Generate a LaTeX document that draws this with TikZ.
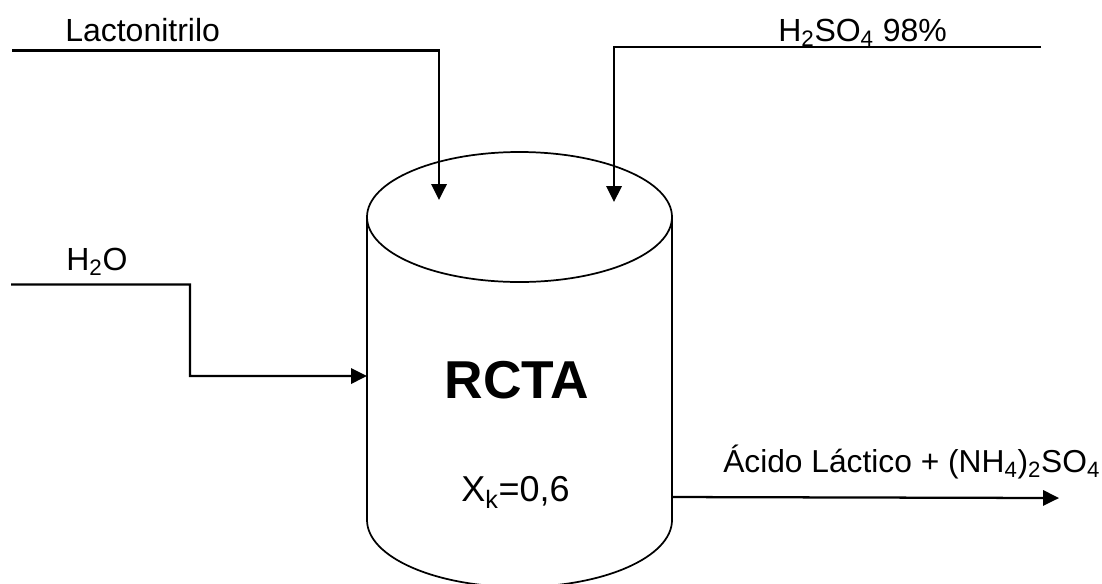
\documentclass[tikz,border=0pt]{standalone}
\usepackage{fontspec}
\setmainfont{Liberation Sans}
\usetikzlibrary{arrows.meta,positioning}
\tikzset{stream/.style={draw, line width=1.7pt, -{Triangle[length=12pt,width=11.5pt]}},
  vessel/.style={draw, line width=1.3pt},
  label/.style={inner sep=0pt, font=\fontsize{24}{28}\selectfont}}
\begin{document}
\begin{tikzpicture}[x=1pt,y=-1pt,xscale=0.75,yscale=0.75]
    \useasboundingbox (0,0) rectangle (1102,583);
    % vessel
    \coordinate (top_l) at (367,217);
    \coordinate (top_r) at (672,217);
    \coordinate (bot_l) at (367,520);
    \coordinate (bot_r) at (672,520);
    \begin{scope}
        \clip (0,0) rectangle (1102,583);
        \draw[vessel] (519.5,217) ellipse [x radius=152.5, y radius=65];
        \draw[vessel] (top_l) -- (bot_l) arc [start angle=180, end angle=0, x radius=152.5, y radius=67] -- (top_r);
    \end{scope}

    % feeds
    \coordinate (lacto_s) at (12,50.5);
    \coordinate (lacto_e) at (439,200);
    \coordinate (acid_s) at (1041,47);
    \coordinate (acid_e) at (614,202);
    \coordinate (water_s) at (11,284.5);
    \coordinate (water_e) at (367,376);
    \coordinate (prod_s) at (672,497);
    \coordinate (prod_e) at (1059,498);
    \draw[stream] (lacto_s) -| (lacto_e);
    \draw[stream] (acid_s) -| (acid_e);
    \draw[stream] (water_s) -| (190,376) -- (water_e);
    \draw[stream] (prod_s) -- (prod_e);

    % labels
    \node[label, anchor=base west] (lacto) at (65,41) {Lactonitrilo};
    \node[label, anchor=base west] (acid) at (778,41.5) {H\textsubscript{2}SO\textsubscript{4} 98\%};
    \node[label, anchor=base west] (water) at (66,270.5) {H\textsubscript{2}O};
    \node[label, anchor=base west, font=\fontsize{23.8}{28}\selectfont] (prod) at (723,472.5) {Ácido Láctico + (NH\textsubscript{4})\textsubscript{2}SO\textsubscript{4}};
    \node[anchor=base, inner sep=0pt, font=\fontsize{40}{44}\selectfont\bfseries] (rcta) at (517,398) {RCTA};
    \node[label, anchor=base west, font=\fontsize{27}{30}\selectfont] (conv) at (461,501.5) {X\textsubscript{k}=0,6};
\end{tikzpicture}
\end{document}
